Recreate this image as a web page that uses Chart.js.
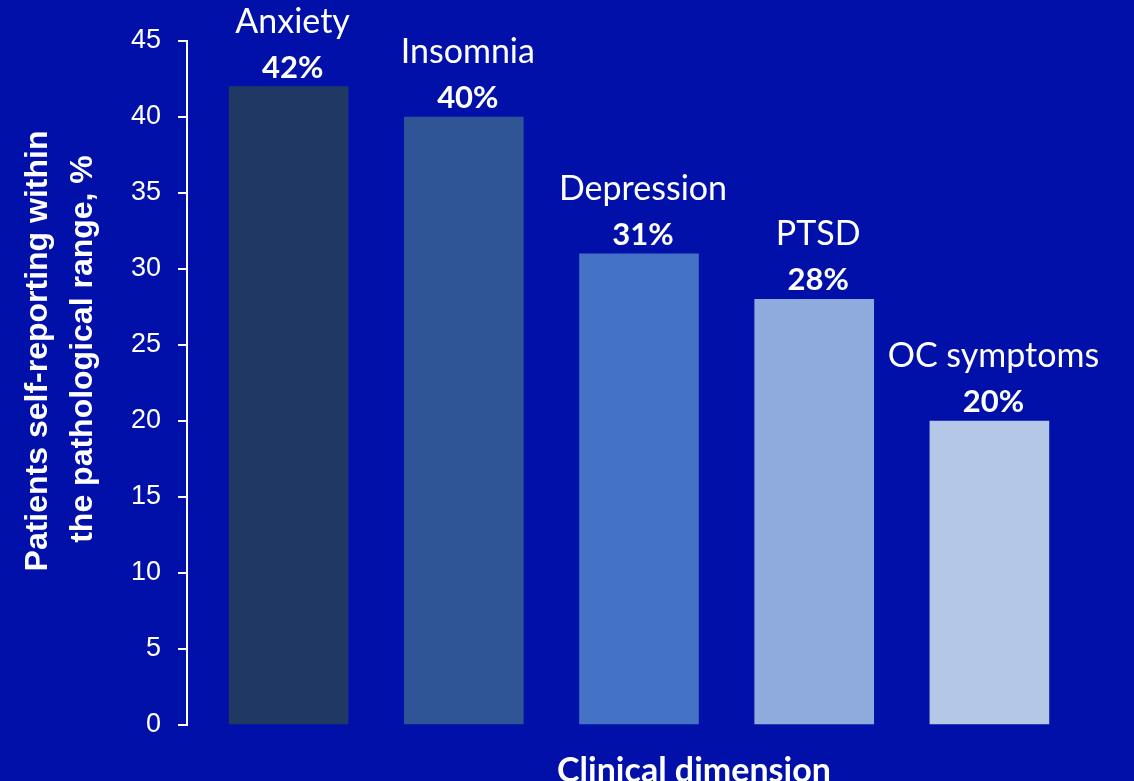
<!DOCTYPE html>
<html>
<head>
<meta charset="utf-8">
<script src="https://cdn.jsdelivr.net/npm/chart.js@4"></script>
<style>
  html, body { margin: 0; padding: 0; background: #0010A8; }
  #wrap { width: 1134px; height: 781px; }
</style>
</head>
<body>
<div id="wrap"><canvas id="my_chart"></canvas></div>
<script>
  'use strict';

  // data
  var categories = ['Anxiety', 'Insomnia', 'Depression', 'PTSD', 'OC symptoms'];
  var percents   = [42, 40, 31, 28, 20];
  var bar_colors = ['#203864', '#2F5597', '#4472C4', '#8FAADC', '#B4C7E7'];
  var y_ticks    = [0, 5, 10, 15, 20, 25, 30, 35, 40, 45];

  var y_title = ['Patients self-reporting within', 'the pathological range, %'];
  var x_title = 'Clinical dimension';

  var points = categories.map(function(c, i){ return {x: i, y: percents[i]}; });

  // labels on top of the bars
  var bar_labels = {
    id: 'bar_labels',
    afterDatasetsDraw: function(chart){
      var ctx = chart.ctx;
      var meta = chart.getDatasetMeta(0);
      ctx.save();
      ctx.fillStyle = '#ffffff';
      ctx.textAlign = 'center';
      ctx.textBaseline = 'alphabetic';
      meta.data.forEach(function(bar, i){
        var x = bar.x + 4;
        var base = bar.y - 9;
        ctx.font = 'bold 31px Lato';
        ctx.fillText(percents[i] + '%', x, base);
        ctx.font = '34px Lato';
        ctx.fillText(categories[i], x, base - 45);
      });
      ctx.restore();
    }
  };

  // axis titles
  var axis_titles = {
    id: 'axis_titles',
    afterDraw: function(chart){
      var ctx = chart.ctx;
      ctx.save();
      ctx.fillStyle = '#ffffff';
      ctx.textAlign = 'center';
      ctx.textBaseline = 'alphabetic';
      ctx.font = 'bold 32px "Liberation Sans"';
      ctx.translate(47, 351);
      ctx.rotate(-Math.PI / 2);
      ctx.fillText(y_title[0], 0, 0);
      ctx.fillText(y_title[1], 2, 45);
      ctx.restore();

      ctx.save();
      ctx.fillStyle = '#ffffff';
      ctx.textAlign = 'center';
      ctx.font = 'bold 34px Lato';
      ctx.fillText(x_title, 694, 782);
      ctx.restore();
    }
  };

  var config = {
    type: 'bar',
    data: {
      datasets: [{
        data: points,
        backgroundColor: bar_colors,
        borderWidth: 0,
        barThickness: 119
      }]
    },
    options: {
      responsive: true,
      maintainAspectRatio: false,
      animation: false,
      layout: { padding: { left: 0, right: 57, top: 41, bottom: 56 } },
      plugins: {
        legend: { display: false },
        tooltip: { enabled: false }
      },
      scales: {
        x: {
          type: 'linear',
          min: -0.58,
          max: 4.5,
          offset: false,
          display: false
        },
        y: {
          min: 0,
          max: 45,
          afterFit: function(scale){ scale.width = 187; },
          afterBuildTicks: function(scale){
            scale.ticks = y_ticks.map(function(v){ return {value: v}; });
          },
          border: { display: true, color: '#ffffff', width: 2 },
          grid: {
            display: true,
            drawOnChartArea: false,
            drawTicks: true,
            tickLength: 9,
            color: '#ffffff',
            lineWidth: 2
          },
          ticks: {
            color: '#ffffff',
            padding: 17,
            font: { family: 'Liberation Sans', size: 27 }
          }
        }
      }
    },
    plugins: [bar_labels, axis_titles]
  };

  var ctx = document.getElementById('my_chart').getContext('2d');
  var myChart = new Chart(ctx, config);
</script>
</body>
</html>
